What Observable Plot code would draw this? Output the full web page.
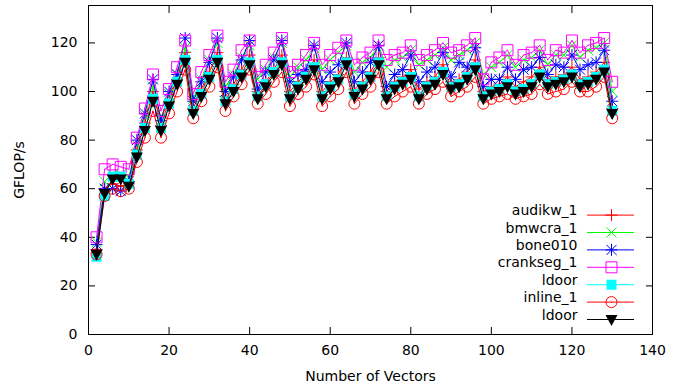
<!DOCTYPE html>
<html><head><meta charset="utf-8">
<script src="https://cdn.jsdelivr.net/npm/d3@7"></script>
<script src="https://cdn.jsdelivr.net/npm/@observablehq/plot@0.6"></script>
<style>html,body{margin:0;padding:0;background:#fff;}</style>
</head><body><div id="chart"></div>
<script>
// ---- data ----
const vectors = [2,4,6,8,10,12,14,16,18,20,22,24,26,28,30,32,34,36,38,40,42,44,46,48,50,52,54,56,58,60,62,64,66,68,70,72,74,76,78,80,82,84,86,88,90,92,94,96,98,100,102,104,106,108,110,112,114,116,118,120,122,124,126,128,130];

const audikw_1 = [35,60,62,61,62,76,87,100,86,96, 105,116,93,101,108,116,98,103,109,115, 100,104,109,115,100,104,107,113,100,104, 107,114,101,104,108,114,100,104,106,109, 101,104,106,111,104,105,108,113,100,102, 103,106,102,104,106,110,105,106,107,110, 105,106,108,112,93];
const bmwcra_1 = [38,63,66,66,65,78,90,102,89,99, 107,118,97,105,113,120,102,107,114,119, 105,109,114,120,106,110,113,118,109,113, 116,119,108,112,114,119,110,113,114,117, 111,113,115,118,113,115,117,120,107,110, 112,115,110,113,114,117,111,115,115,119, 114,117,118,120,100];
const bone010 = [37,60,60,59,63,80,91,105,88,100, 107,122,96,104,112,122,100,106,113,121, 101,108,113,121,104,107,109,119,104,108, 111,120,104,108,112,119,102,107,109,115, 104,108,110,116,106,112,110,118,102,105, 105,110,105,109,110,114,107,111,110,115, 109,111,112,117,96];
const crankseg_1 = [40,68,70,69,68,81,93,107,92,101, 110,121,99,108,115,123,104,109,117,121, 106,111,116,122,108,111,115,120,111,115, 118,121,111,114,116,121,113,115,116,119, 113,115,117,120,116,117,119,122,105,112, 114,117,111,115,116,119,113,117,116,121, 116,119,120,122,104];
const ldoor_a = [32,57,65,65,62,74,85,97,85,95, 104,113,92,99,106,113,96,101,107,112, 98,103,108,112,98,102,106,110,98,102, 105,112,99,102,106,112,98,102,104,106, 98,102,104,108,102,103,106,110,98,100, 101,103,100,101,103,107,103,104,105,107, 103,104,106,109,92];
const inline_1 = [33,57,60,59,60,71,81,92,81,91, 100,109,89,96,102,110,92,98,103,109, 95,99,104,108,94,99,102,107,94,98, 101,108,95,99,102,108,95,98,100,102, 95,99,101,104,98,100,102,106,95,97, 98,99,97,98,99,103,99,100,101,104, 100,100,102,106,89];
const ldoor_b = [33,58,64,64,61,73,84,96,84,94, 103,112,91,98,105,112,95,100,106,111, 97,102,107,111,97,101,105,109,97,101, 104,111,98,101,105,111,97,101,103,105, 97,101,103,107,101,102,105,109,97,99, 100,102,99,100,102,106,102,103,104,106, 102,103,105,108,91];

const seriesNames = ["audikw_1","bmwcra_1","bone010","crankseg_1","ldoor","inline_1","ldoor"];
const seriesColors = ["#ff0000","#00ff00","#0000ff","#ff00ff","#00ffff","#ff0000","#000000"];
const seriesValues = [audikw_1, bmwcra_1, bone010, crankseg_1, ldoor_a, inline_1, ldoor_b];
const xTicks = [0,20,40,60,80,100,120,140];
const yTicks = [0,20,40,60,80,100,120];

// ---- gnuplot-like point symbols ----
const symPlus = {draw(c){c.moveTo(-6,0);c.lineTo(6,0);c.moveTo(0,-6);c.lineTo(0,6);}};
const symTimes = {draw(c){c.moveTo(-5,-5);c.lineTo(5,5);c.moveTo(-5,5);c.lineTo(5,-5);}};
const symStar = {draw(c){symPlus.draw(c);symTimes.draw(c);}};
const symBox = {draw(c){c.rect(-5.5,-5.5,11,11);c.moveTo(0,-0.5);c.lineTo(0,0.5);}};
const symFillBox = {draw(c){c.rect(-5,-5,10,10);}};
const symCircle = {draw(c){c.moveTo(5.5,0);c.arc(0,0,5.5,0,2*Math.PI);c.moveTo(0,-0.5);c.lineTo(0,0.5);}};
const symTriDown = {draw(c){c.moveTo(-6,-4.5);c.lineTo(6,-4.5);c.lineTo(0,6.5);c.closePath();}};
const symLegendLine = {draw(c){c.moveTo(-23.5,0);c.lineTo(23.5,0);}};
const seriesSymbols = [symPlus, symTimes, symStar, symBox, symFillBox, symCircle, symTriDown];
const seriesFilled = [false,false,false,false,true,false,true];

function symStyle(i){
  return seriesFilled[i] ? {fill: seriesColors[i], stroke: "none"}
                         : {fill: "none", stroke: seriesColors[i], strokeWidth: 1};
}

const marks = [];
seriesValues.forEach((vals, i) => {
  const data = vectors.map((v, j) => ({x: v, y: vals[j]}));
  marks.push(Plot.line(data, {x: "x", y: "y", stroke: seriesColors[i], strokeWidth: 1}));
  marks.push(Plot.dot(data, {x: "x", y: "y", symbol: seriesSymbols[i], ...symStyle(i)}));
});

// legend inside the frame, bottom-right
seriesNames.forEach((name, i) => {
  const dy = -15 - (seriesNames.length - 1 - i) * 17.4;
  marks.push(Plot.text([name], {frameAnchor: "bottom-right", text: d => d, textAnchor: "end", dx: -75, dy, fill: "#000"}));
  marks.push(Plot.dot([name], {frameAnchor: "bottom-right", dx: -42, dy, symbol: symLegendLine, fill: "none", stroke: seriesColors[i], strokeWidth: 1}));
  marks.push(Plot.dot([name], {frameAnchor: "bottom-right", dx: -41, dy, symbol: seriesSymbols[i], ...symStyle(i)}));
});

const chart = Plot.plot({
  width: 685, height: 387,
  marginLeft: 88, marginRight: 33, marginTop: 5, marginBottom: 53,
  style: {fontFamily: "DejaVu Sans", fontSize: "14px", background: "#fff", color: "#000"},
  x: {domain: [0, 140]},
  y: {domain: [0, 135.4]},
  marks: [
    Plot.axisX(xTicks, {anchor: "bottom", tickSize: 0, tickPadding: 11, label: "Number of Vectors", labelArrow: "none", labelAnchor: "center", labelOffset: 46}),
    Plot.axisX(xTicks, {anchor: "bottom", tickSize: -7, tickFormat: () => "", label: null}),
    Plot.axisX(xTicks, {anchor: "top", tickSize: -7, tickFormat: () => "", label: null}),
    Plot.axisY(yTicks, {anchor: "left", tickSize: 0, tickPadding: 11, label: "GFLOP/s", labelArrow: "none", labelAnchor: "center", labelOffset: 74}),
    Plot.axisY(yTicks, {anchor: "left", tickSize: -7, tickFormat: () => "", label: null}),
    Plot.axisY(yTicks, {anchor: "right", tickSize: -7, tickFormat: () => "", label: null}),
    ...marks,
    Plot.frame({stroke: "#000", strokeWidth: 1})
  ]
});
document.getElementById("chart").appendChild(chart);
</script>
</body></html>
